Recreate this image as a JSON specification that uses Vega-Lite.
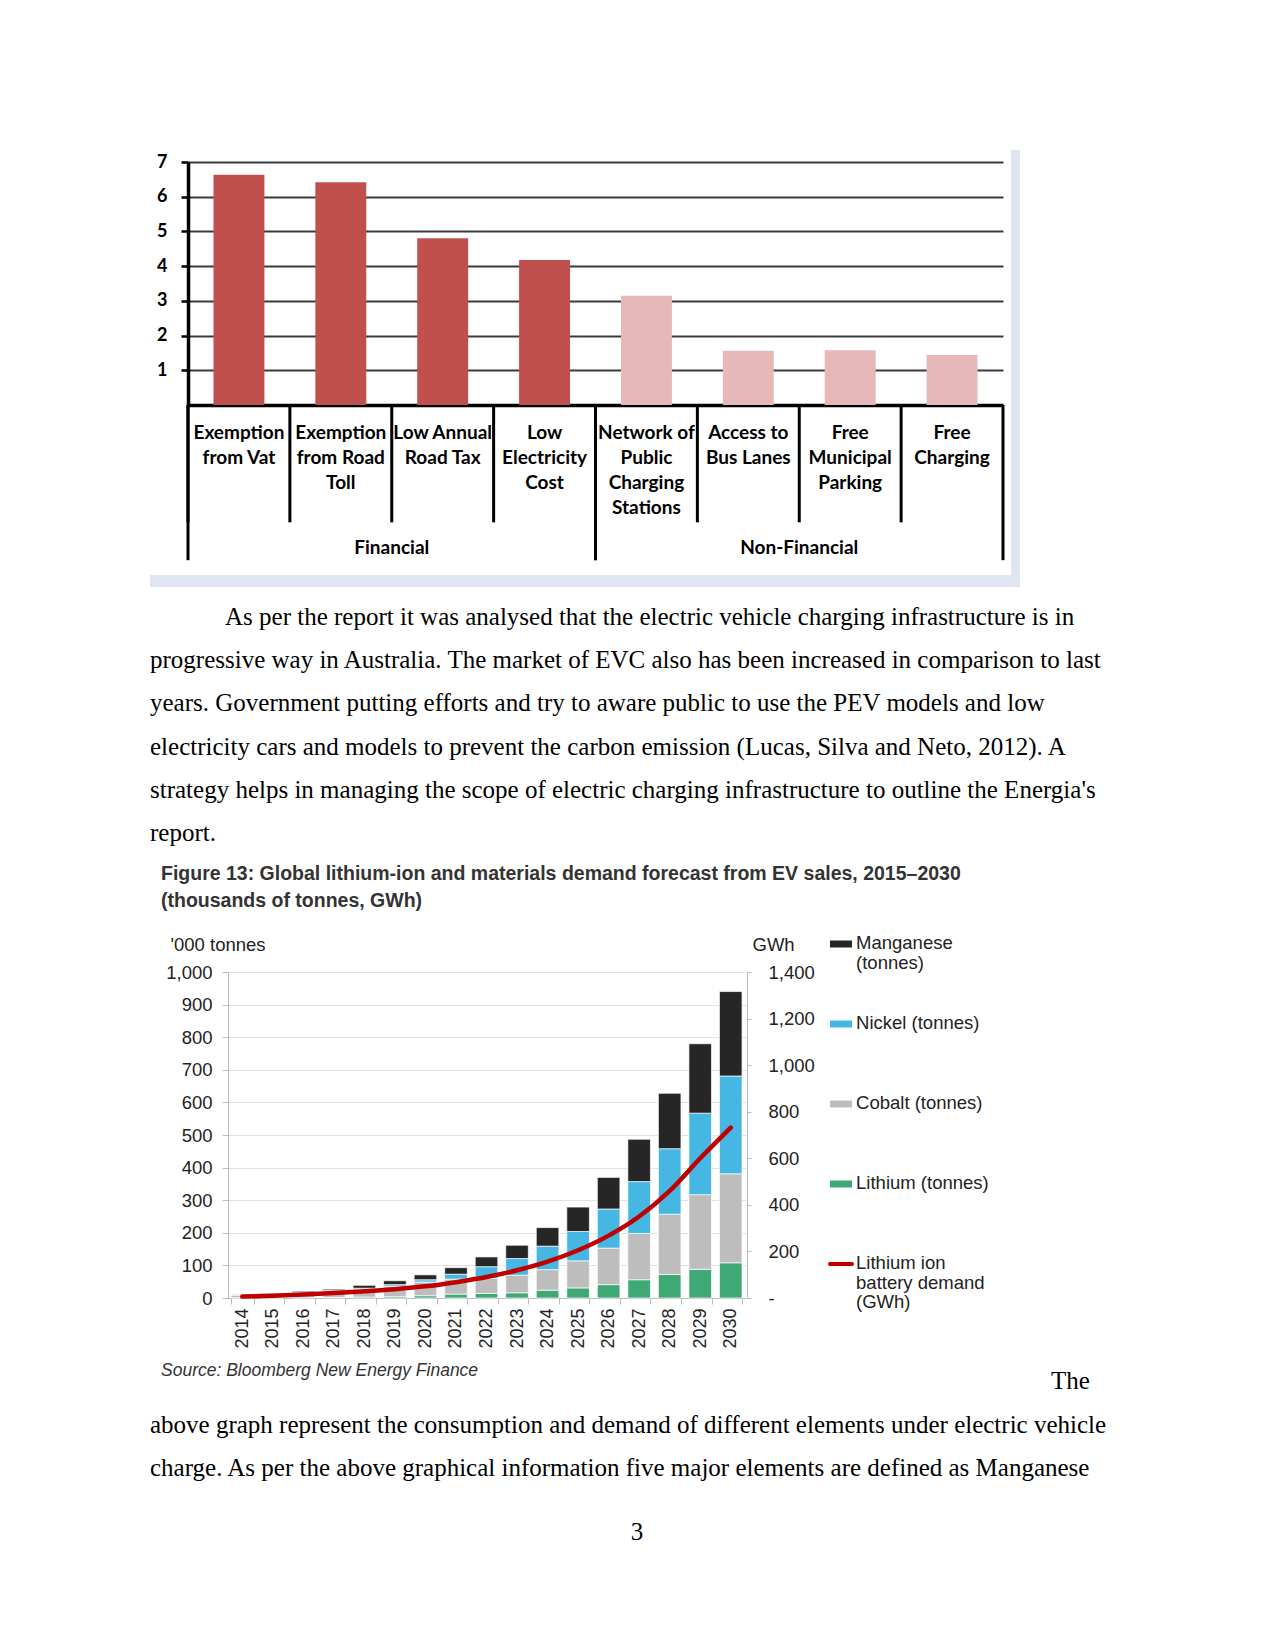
{
  "$schema": "https://vega.github.io/schema/vega-lite/v6.json",
  "width": 1275,
  "height": 1651,
  "autosize": {"type": "none"},
  "padding": 0,
  "background": "#ffffff",
  "config": {"view": {"stroke": null}},
  "resolve": {
    "scale": {"x": "independent", "y": "independent", "color": "independent"},
    "axis": {"x": "independent", "y": "independent"}
  },
  "layer": [
    {
      "data": {"values": [
        {"edge": "right", "x0": 6.74, "x1": 6.8, "y0": 1.0, "y1": 3.913},
        {"edge": "bottom", "x0": 1.0, "x1": 6.8, "y0": 3.833, "y1": 3.913}
      ]},
      "mark": {"type": "rect", "color": "#dfe6f1"},
      "encoding": {
        "x": {"field": "x0", "type": "quantitative", "scale": {"domain": [0, 8.5], "range": [0, 1275], "nice": false}, "axis": null},
        "x2": {"field": "x1"},
        "y": {"field": "y0", "type": "quantitative", "scale": {"domain": [0, 11], "range": [0, 1650], "nice": false}, "axis": null},
        "y2": {"field": "y1"}
      }
    },
    {
      "data": {"values": [
        {"cat": "Exemption\nfrom Vat", "group": "Financial", "score": 6.63},
        {"cat": "Exemption\nfrom Road\nToll", "group": "Financial", "score": 6.42},
        {"cat": "Low Annual\nRoad Tax", "group": "Financial", "score": 4.80},
        {"cat": "Low\nElectricity\nCost", "group": "Financial", "score": 4.18},
        {"cat": "Network of\nPublic\nCharging\nStations", "group": "Non-Financial", "score": 3.15},
        {"cat": "Access to\nBus Lanes", "group": "Non-Financial", "score": 1.56},
        {"cat": "Free\nMunicipal\nParking", "group": "Non-Financial", "score": 1.58},
        {"cat": "Free\nCharging", "group": "Non-Financial", "score": 1.44}
      ]},
      "layer": [
        {
          "mark": {"type": "bar", "width": {"band": 0.5}},
          "encoding": {
            "x": {"field": "cat", "type": "nominal", "sort": null,
              "scale": {"type": "band", "range": [188, 1003], "paddingInner": 0, "paddingOuter": 0},
              "axis": {"orient": "bottom", "offset": -1246, "title": null, "ticks": false, "tickSize": 0,
                "domainColor": "#000000", "domainWidth": 3.5, "labelAngle": 0,
                "labelExpr": "split(datum.label, '\\n')",
                "labelFont": "Lato", "labelFontWeight": "bold", "labelFontSize": 19, "labelLineHeight": 25,
                "labelColor": "#000000", "labelPadding": 18, "labelOverlap": false, "labelLimit": 300, "labelBaseline": "top"}},
            "y": {"field": "score", "type": "quantitative",
              "scale": {"domain": [0, 7], "range": [405, 162], "nice": false},
              "axis": {"orient": "left", "offset": -188, "title": null, "values": [1, 2, 3, 4, 5, 6, 7], "format": "d",
                "grid": true, "gridColor": "#3a3a3a", "gridWidth": 2,
                "domainColor": "#000000", "domainWidth": 3.5, "tickColor": "#000000", "tickWidth": 2.5, "tickSize": 7,
                "labelFont": "Lato", "labelFontWeight": "bold", "labelFontSize": 18, "labelColor": "#000000", "labelPadding": 14}},
            "color": {"field": "group", "type": "nominal",
              "scale": {"domain": ["Financial", "Non-Financial"], "range": ["#C0504D", "#E6B9B8"]}, "legend": null}
          }
        },
        {
          "mark": {"type": "rule", "color": "#000000", "strokeWidth": 3},
          "encoding": {
            "x": {"field": "cat", "type": "nominal", "sort": null, "bandPosition": 0,
              "scale": {"type": "band", "range": [188, 1003], "paddingInner": 0, "paddingOuter": 0}},
            "y": {"datum": 0, "type": "quantitative", "scale": {"domain": [0, 7], "range": [405, 162], "nice": false}},
            "y2": {"datum": -3.38}
          }
        }
      ]
    },
    {
      "data": {"values": [{"group": "Financial"}, {"group": "Non-Financial"}]},
      "layer": [
        {
          "mark": {"type": "rule", "color": "#000000", "strokeWidth": 3},
          "encoding": {
            "x": {"field": "group", "type": "nominal", "bandPosition": 0,
              "scale": {"type": "band", "range": [188, 1003], "paddingInner": 0, "paddingOuter": 0}, "axis": null},
            "y": {"datum": 0, "type": "quantitative", "scale": {"domain": [0, 7], "range": [405, 162], "nice": false}, "axis": null},
            "y2": {"datum": -4.47}
          }
        },
        {
          "mark": {"type": "rule", "color": "#000000", "strokeWidth": 3},
          "encoding": {
            "x": {"field": "group", "type": "nominal", "bandPosition": 1,
              "scale": {"type": "band", "range": [188, 1003], "paddingInner": 0, "paddingOuter": 0}, "axis": null},
            "y": {"datum": 0, "type": "quantitative", "scale": {"domain": [0, 7], "range": [405, 162], "nice": false}, "axis": null},
            "y2": {"datum": -4.47}
          }
        },
        {
          "mark": {"type": "text", "font": "Lato", "fontWeight": "bold", "fontSize": 19, "color": "#000000", "baseline": "middle", "align": "center"},
          "encoding": {
            "x": {"field": "group", "type": "nominal", "bandPosition": 0.5,
              "scale": {"type": "band", "range": [188, 1003], "paddingInner": 0, "paddingOuter": 0}, "axis": null},
            "y": {"datum": -4.12, "type": "quantitative", "scale": {"domain": [0, 7], "range": [405, 162], "nice": false}, "axis": null},
            "text": {"field": "group"}
          }
        }
      ]
    },
    {
      "data": {"values": [
        {"year": 2014, "Lithium": 1, "Cobalt": 8, "Nickel": 1, "Manganese": 1, "GWh": 6},
        {"year": 2015, "Lithium": 1, "Cobalt": 10, "Nickel": 1, "Manganese": 2, "GWh": 10},
        {"year": 2016, "Lithium": 2, "Cobalt": 14, "Nickel": 2, "Manganese": 3, "GWh": 15},
        {"year": 2017, "Lithium": 2, "Cobalt": 18, "Nickel": 3, "Manganese": 4, "GWh": 21},
        {"year": 2018, "Lithium": 3, "Cobalt": 23, "Nickel": 4, "Manganese": 9, "GWh": 29},
        {"year": 2019, "Lithium": 4, "Cobalt": 32, "Nickel": 5, "Manganese": 12, "GWh": 38},
        {"year": 2020, "Lithium": 7, "Cobalt": 42, "Nickel": 7, "Manganese": 15, "GWh": 50},
        {"year": 2021, "Lithium": 12, "Cobalt": 46, "Nickel": 15, "Manganese": 20, "GWh": 68},
        {"year": 2022, "Lithium": 14, "Cobalt": 46, "Nickel": 36, "Manganese": 30, "GWh": 90},
        {"year": 2023, "Lithium": 16, "Cobalt": 54, "Nickel": 51, "Manganese": 41, "GWh": 119},
        {"year": 2024, "Lithium": 24, "Cobalt": 63, "Nickel": 72, "Manganese": 57, "GWh": 156},
        {"year": 2025, "Lithium": 31, "Cobalt": 83, "Nickel": 90, "Manganese": 75, "GWh": 205},
        {"year": 2026, "Lithium": 41, "Cobalt": 112, "Nickel": 120, "Manganese": 97, "GWh": 268},
        {"year": 2027, "Lithium": 56, "Cobalt": 142, "Nickel": 159, "Manganese": 130, "GWh": 350},
        {"year": 2028, "Lithium": 72, "Cobalt": 185, "Nickel": 201, "Manganese": 170, "GWh": 460},
        {"year": 2029, "Lithium": 88, "Cobalt": 229, "Nickel": 250, "Manganese": 213, "GWh": 600},
        {"year": 2030, "Lithium": 108, "Cobalt": 273, "Nickel": 300, "Manganese": 259, "GWh": 732}
      ]},
      "resolve": {"scale": {"y": "independent"}, "axis": {"y": "independent"}},
      "layer": [
        {
          "transform": [
            {"fold": ["Lithium", "Cobalt", "Nickel", "Manganese"], "as": ["material", "tonnes"]},
            {"calculate": "indexof(['Lithium','Cobalt','Nickel','Manganese'], datum.material)", "as": "stackOrder"}
          ],
          "mark": {"type": "bar", "stroke": "#ffffff", "strokeWidth": 0.7},
          "encoding": {
            "x": {"field": "year", "type": "ordinal",
              "scale": {"type": "band", "range": [227, 746], "paddingInner": 0.26, "paddingOuter": 0.13},
              "axis": {"orient": "bottom", "offset": -353, "title": null, "labelAngle": -90,
                "labelFont": "Liberation Sans", "labelFontSize": 18, "labelColor": "#222222",
                "tickBand": "extent", "tickSize": 6, "tickColor": "#bbbbbb", "domainColor": "#bbbbbb",
                "labelPadding": 4, "labelOverlap": false}},
            "y": {"field": "tonnes", "type": "quantitative", "stack": "zero",
              "scale": {"domain": [0, 1000], "range": [1298, 972], "nice": false},
              "axis": {"orient": "left", "offset": -228, "values": [0, 100, 200, 300, 400, 500, 600, 700, 800, 900, 1000],
                "format": ",.0f", "grid": true, "gridColor": "#e2e2e2", "gridWidth": 1,
                "domainColor": "#bbbbbb", "tickColor": "#bbbbbb", "tickSize": 6,
                "labelFont": "Liberation Sans", "labelFontSize": 18.5, "labelColor": "#222222", "labelPadding": 10,
                "title": "'000 tonnes", "titleAngle": 0, "titleAlign": "left", "titleBaseline": "middle",
                "titleX": -58, "titleY": 944, "titleFont": "Liberation Sans", "titleFontWeight": "normal",
                "titleFontSize": 18.5, "titleColor": "#222222"}},
            "color": {"field": "material", "type": "nominal",
              "scale": {"domain": ["Manganese", "Nickel", "Cobalt", "Lithium"], "range": ["#262626", "#46B6E2", "#BDBDBD", "#3FA975"]},
              "legend": null},
            "order": {"field": "stackOrder", "type": "quantitative"}
          }
        },
        {
          "mark": {"type": "line", "color": "#C00000", "strokeWidth": 4.5, "interpolate": "monotone", "strokeCap": "round"},
          "encoding": {
            "x": {"field": "year", "type": "ordinal",
              "scale": {"type": "band", "range": [227, 746], "paddingInner": 0.26, "paddingOuter": 0.13}},
            "y": {"field": "GWh", "type": "quantitative",
              "scale": {"domain": [0, 1400], "range": [1298, 972], "nice": false},
              "axis": {"orient": "right", "offset": -528, "values": [0, 200, 400, 600, 800, 1000, 1200, 1400],
                "labelExpr": "datum.value === 0 ? '-' : format(datum.value, ',.0f')", "grid": false,
                "domainColor": "#bbbbbb", "tickColor": "#bbbbbb", "tickSize": 4,
                "labelFont": "Liberation Sans", "labelFontSize": 18.5, "labelColor": "#222222", "labelPadding": 17,
                "title": "GWh", "titleAngle": 0, "titleAlign": "left", "titleBaseline": "middle",
                "titleX": 5, "titleY": 944, "titleFont": "Liberation Sans", "titleFontWeight": "normal",
                "titleFontSize": 18.5, "titleColor": "#222222"}}
          }
        }
      ]
    },
    {
      "data": {"values": [
        {"item": "Manganese", "label": ["Manganese", "(tonnes)"]},
        {"item": "Nickel", "label": ["Nickel (tonnes)"]},
        {"item": "Cobalt", "label": ["Cobalt (tonnes)"]},
        {"item": "Lithium", "label": ["Lithium (tonnes)"]},
        {"item": "Lithium ion battery demand", "label": ["Lithium ion", "battery demand", "(GWh)"]}
      ]},
      "layer": [
        {
          "transform": [{"filter": "datum.item !== 'Lithium ion battery demand'"}],
          "mark": {"type": "rule", "strokeWidth": 7},
          "encoding": {
            "x": {"datum": 5.533, "type": "quantitative", "scale": {"domain": [0, 8.5], "range": [0, 1275], "nice": false}, "axis": null},
            "x2": {"datum": 5.68},
            "y": {"field": "item", "type": "nominal", "sort": null,
              "scale": {"type": "point", "domain": ["Manganese", "Nickel", "Cobalt", "Lithium", "Lithium ion battery demand"], "range": [944, 1264], "padding": 0}, "axis": null},
            "color": {"field": "item", "type": "nominal",
              "scale": {"domain": ["Manganese", "Nickel", "Cobalt", "Lithium", "Lithium ion battery demand"], "range": ["#262626", "#46B6E2", "#BDBDBD", "#3FA975", "#C00000"]}, "legend": null}
          }
        },
        {
          "transform": [{"filter": "datum.item === 'Lithium ion battery demand'"}],
          "mark": {"type": "rule", "strokeWidth": 4, "strokeCap": "round"},
          "encoding": {
            "x": {"datum": 5.533, "type": "quantitative", "scale": {"domain": [0, 8.5], "range": [0, 1275], "nice": false}, "axis": null},
            "x2": {"datum": 5.68},
            "y": {"field": "item", "type": "nominal", "sort": null,
              "scale": {"type": "point", "domain": ["Manganese", "Nickel", "Cobalt", "Lithium", "Lithium ion battery demand"], "range": [944, 1264], "padding": 0}, "axis": null},
            "color": {"field": "item", "type": "nominal",
              "scale": {"domain": ["Manganese", "Nickel", "Cobalt", "Lithium", "Lithium ion battery demand"], "range": ["#262626", "#46B6E2", "#BDBDBD", "#3FA975", "#C00000"]}, "legend": null}
          }
        },
        {
          "mark": {"type": "text", "align": "left", "baseline": "top", "dy": -10, "font": "Liberation Sans", "fontSize": 18.5, "lineHeight": 19.5, "color": "#222222"},
          "encoding": {
            "x": {"datum": 5.707, "type": "quantitative", "scale": {"domain": [0, 8.5], "range": [0, 1275], "nice": false}, "axis": null},
            "y": {"field": "item", "type": "nominal", "sort": null,
              "scale": {"type": "point", "domain": ["Manganese", "Nickel", "Cobalt", "Lithium", "Lithium ion battery demand"], "range": [944, 1264], "padding": 0}, "axis": null},
            "text": {"field": "label"}
          }
        }
      ]
    },
    {
      "data": {"values": [{"text": "As per the report it was analysed that the electric vehicle charging infrastructure is in"}]},
      "mark": {"type": "text", "font": "Liberation Serif", "fontSize": 25, "align": "left", "baseline": "middle", "color": "#000000"},
      "encoding": {
        "x": {"datum": 1.5, "type": "quantitative", "scale": {"domain": [0, 8.5], "range": [0, 1275], "nice": false}, "axis": null},
        "y": {"datum": 4.113, "type": "quantitative", "scale": {"domain": [0, 11], "range": [0, 1650], "nice": false}, "axis": null},
        "text": {"field": "text"}
      }
    },
    {
      "data": {"values": [
        {"line": 2, "text": "progressive way in Australia. The market of EVC also has been increased in comparison to last"},
        {"line": 3, "text": "years. Government putting efforts and try to aware public to use the PEV models and low"},
        {"line": 4, "text": "electricity cars and models to prevent the carbon emission (Lucas, Silva and Neto, 2012). A"},
        {"line": 5, "text": "strategy helps in managing the scope of electric charging infrastructure to outline the Energia's"},
        {"line": 6, "text": "report."}
      ]},
      "mark": {"type": "text", "font": "Liberation Serif", "fontSize": 25, "align": "left", "baseline": "middle", "color": "#000000"},
      "encoding": {
        "x": {"datum": 1.0, "type": "quantitative", "scale": {"domain": [0, 8.5], "range": [0, 1275], "nice": false}, "axis": null},
        "y": {"field": "line", "type": "ordinal", "scale": {"type": "point", "domain": [2, 3, 4, 5, 6], "range": [660, 833], "padding": 0}, "axis": null},
        "text": {"field": "text"}
      }
    },
    {
      "data": {"values": [{"text": "The"}]},
      "mark": {"type": "text", "font": "Liberation Serif", "fontSize": 25, "align": "left", "baseline": "middle", "color": "#000000"},
      "encoding": {
        "x": {"datum": 7.007, "type": "quantitative", "scale": {"domain": [0, 8.5], "range": [0, 1275], "nice": false}, "axis": null},
        "y": {"datum": 9.207, "type": "quantitative", "scale": {"domain": [0, 11], "range": [0, 1650], "nice": false}, "axis": null},
        "text": {"field": "text"}
      }
    },
    {
      "data": {"values": [
        {"line": 2, "text": "above graph represent the consumption and demand of different elements under electric vehicle"},
        {"line": 3, "text": "charge. As per the above graphical information five major elements are defined as Manganese"}
      ]},
      "mark": {"type": "text", "font": "Liberation Serif", "fontSize": 25, "align": "left", "baseline": "middle", "color": "#000000"},
      "encoding": {
        "x": {"datum": 1.0, "type": "quantitative", "scale": {"domain": [0, 8.5], "range": [0, 1275], "nice": false}, "axis": null},
        "y": {"field": "line", "type": "ordinal", "scale": {"type": "point", "domain": [2, 3], "range": [1424.5, 1468], "padding": 0}, "axis": null},
        "text": {"field": "text"}
      }
    },
    {
      "data": {"values": [{"text": "3"}]},
      "mark": {"type": "text", "font": "Liberation Serif", "fontSize": 25, "align": "center", "baseline": "middle", "color": "#000000"},
      "encoding": {
        "x": {"datum": 4.247, "type": "quantitative", "scale": {"domain": [0, 8.5], "range": [0, 1275], "nice": false}, "axis": null},
        "y": {"datum": 10.213, "type": "quantitative", "scale": {"domain": [0, 11], "range": [0, 1650], "nice": false}, "axis": null},
        "text": {"field": "text"}
      }
    },
    {
      "data": {"values": [
        {"line": 1, "text": "Figure 13: Global lithium-ion and materials demand forecast from EV sales, 2015–2030"},
        {"line": 2, "text": "(thousands of tonnes, GWh)"}
      ]},
      "mark": {"type": "text", "font": "Liberation Sans", "fontWeight": "bold", "fontSize": 19.5, "align": "left", "baseline": "middle", "color": "#333333"},
      "encoding": {
        "x": {"datum": 1.0733, "type": "quantitative", "scale": {"domain": [0, 8.5], "range": [0, 1275], "nice": false}, "axis": null},
        "y": {"field": "line", "type": "ordinal", "scale": {"type": "point", "domain": [1, 2], "range": [874, 901], "padding": 0}, "axis": null},
        "text": {"field": "text"}
      }
    },
    {
      "data": {"values": [{"text": "Source: Bloomberg New Energy Finance"}]},
      "mark": {"type": "text", "font": "Liberation Sans", "fontStyle": "italic", "fontSize": 17.5, "align": "left", "baseline": "middle", "color": "#333333"},
      "encoding": {
        "x": {"datum": 1.0733, "type": "quantitative", "scale": {"domain": [0, 8.5], "range": [0, 1275], "nice": false}, "axis": null},
        "y": {"datum": 9.14, "type": "quantitative", "scale": {"domain": [0, 11], "range": [0, 1650], "nice": false}, "axis": null},
        "text": {"field": "text"}
      }
    }
  ]
}
